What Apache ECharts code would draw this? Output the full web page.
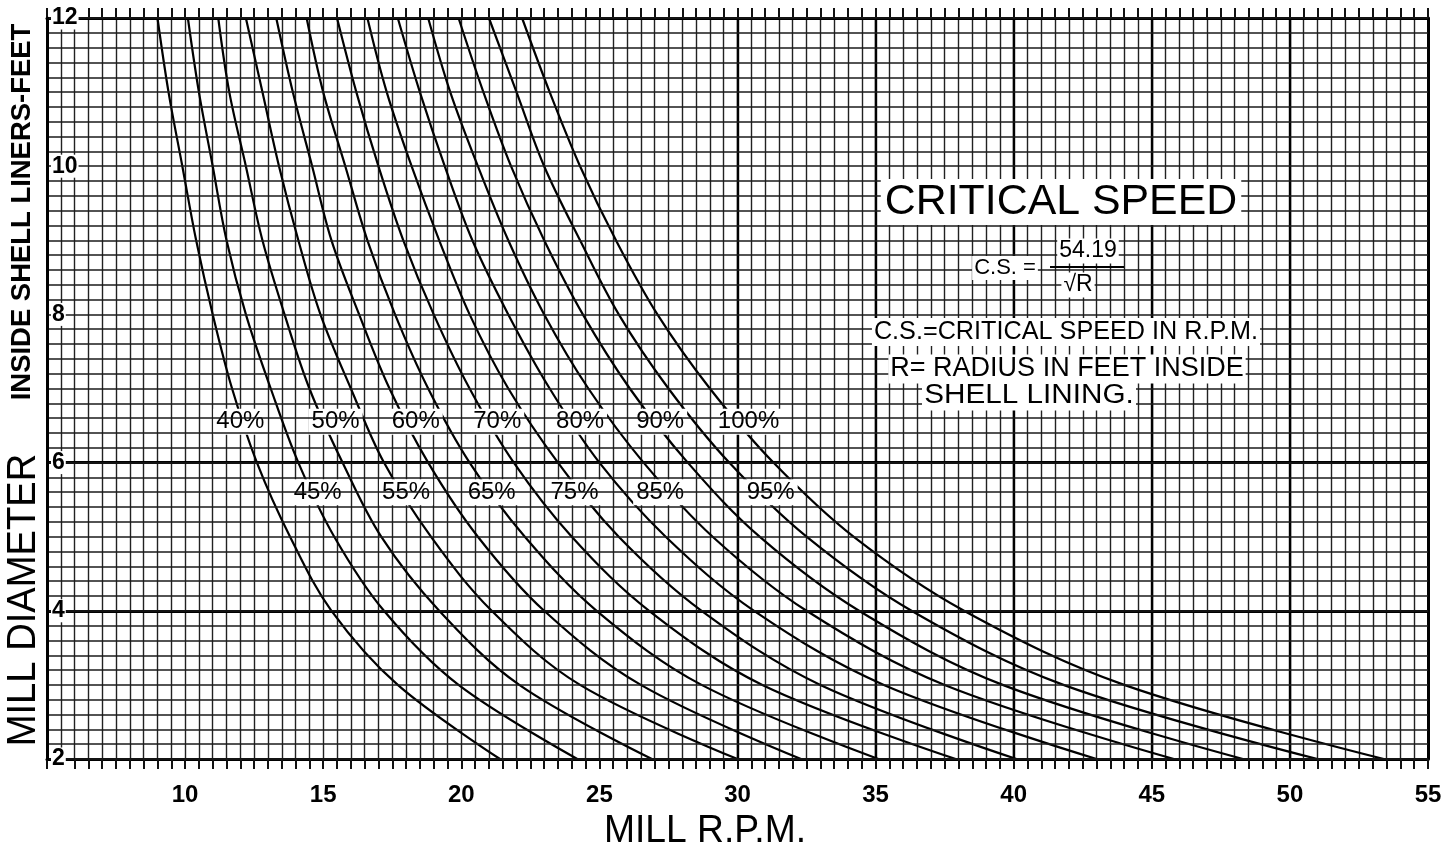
<!DOCTYPE html>
<html><head><meta charset="utf-8">
<script src="https://cdn.jsdelivr.net/npm/echarts@6/dist/echarts.min.js"></script>
<style>html,body{margin:0;padding:0;background:#fff}#c{width:1450px;height:854px}</style>
</head><body><div id="c"></div>
<script>
// Mill diameter (ft) at which each curve's RPM was read
const diameters = [2, 3, 4, 5, 6, 7, 8, 9, 10, 11, 12];
const percentNames = ['40%','45%','50%','55%','60%','65%','70%','75%','80%','85%','90%','95%','100%'];
// RPM, at the diameters above
const rpm40  = [21.4, 17.7, 15.3, 13.8, 12.6, 11.7, 11.0, 10.4, 9.9, 9.4, 9.0];
const rpm45  = [24.2, 19.9, 17.2, 15.4, 14.1, 13.1, 12.2, 11.5, 11.0, 10.5, 10.1];
const rpm50  = [26.9, 22.1, 19.2, 17.1, 15.7, 14.5, 13.6, 12.8, 12.2, 11.6, 11.2];
const rpm55  = [30.0, 24.3, 21.1, 18.9, 17.2, 16.0, 14.9, 14.1, 13.4, 12.8, 12.2];
const rpm60  = [32.3, 26.5, 23.0, 20.6, 18.8, 17.4, 16.3, 15.3, 14.6, 13.9, 13.3];
const rpm65  = [35.1, 28.7, 24.9, 22.3, 20.3, 18.8, 17.6, 16.6, 15.8, 15.0, 14.4];
const rpm70  = [37.9, 30.9, 26.8, 24.0, 21.9, 20.3, 19.0, 17.9, 17.0, 16.2, 15.5];
const rpm75  = [40.1, 33.0, 28.7, 25.7, 23.5, 21.7, 20.3, 19.2, 18.2, 17.3, 16.6];
const rpm80  = [43.0, 35.3, 30.6, 27.4, 25.0, 23.2, 21.7, 20.4, 19.4, 18.5, 17.7];
const rpm85  = [45.8, 37.5, 32.5, 29.1, 26.6, 24.6, 23.0, 21.7, 20.6, 19.6, 18.8];
const rpm90  = [48.3, 39.6, 34.4, 30.8, 28.2, 26.1, 24.4, 23.0, 21.8, 20.8, 19.9];
const rpm95  = [51.0, 41.8, 36.3, 32.5, 29.7, 27.5, 25.7, 24.3, 23.0, 22.0, 21.0];
const rpm100 = [53.4, 44.0, 38.2, 34.2, 31.3, 29.0, 27.1, 25.6, 24.3, 23.2, 22.2];
const xTickLabels = [10, 15, 20, 25, 30, 35, 40, 45, 50, 55];
const yTickLabels = [2, 4, 6, 8, 10, 12];
const boldDiameters = [4, 6];
const boldRpm = [30, 35, 40, 45, 50];

const curves = [rpm40, rpm45, rpm50, rpm55, rpm60, rpm65, rpm70, rpm75, rpm80, rpm85, rpm90, rpm95, rpm100];

// where the percentage names are written on the chart (rpm, diameter)
const labelAnchors = [
  [12.0, 6.55], [14.8, 5.6], [15.45, 6.55], [18.0, 5.6], [18.35, 6.55], [21.1, 5.6],
  [21.3, 6.55], [24.1, 5.6], [24.3, 6.55], [27.2, 5.6], [27.2, 6.55], [31.2, 5.6], [30.4, 6.55]
];

const chart = echarts.init(document.getElementById('c'), null, {renderer: 'canvas'});
const FONT = 'Liberation Sans';
const near = (v, t) => Math.abs(v - t) < 1e-6;

const series = curves.map((arr, i) => ({
  type: 'line',
  name: percentNames[i],
  data: diameters.map((d, j) => [arr[j], d]),
  smooth: 0.35,
  symbol: 'none',
  silent: true,
  lineStyle: {color: '#000', width: 2.2},
  z: 5
}));

series[0].markLine = {
  silent: true, symbol: 'none', animation: false,
  label: {show: false},
  lineStyle: {color: '#000', type: 'solid', width: 3},
  data: boldDiameters.map(d => ({yAxis: d})).concat(boldRpm.map(r => ({xAxis: r, lineStyle: {width: 2.4}})))
};

series.push({
  type: 'scatter',
  symbolSize: 0,
  silent: true,
  z: 10,
  itemStyle: {opacity: 1},
  data: labelAnchors.map((p, i) => [p[0], p[1], percentNames[i]]),
  label: {
    show: true, position: 'inside', opacity: 1,
    formatter: p => p.value[2],
    fontFamily: FONT, fontSize: 24, color: '#000',
    backgroundColor: '#fff', padding: [1, 3]
  }
});

const txt = (x, y, text, size, extra) => Object.assign({
  type: 'text', x: x, y: y, z: 100,
  style: Object.assign({text: text, fontFamily: FONT, fontSize: size, fill: '#000',
    align: 'center', verticalAlign: 'middle'}, extra && extra.style || {})
}, extra && extra.el || {});

chart.setOption({
  animation: false,
  backgroundColor: '#fff',
  grid: {left: 47, right: 22, top: 18, bottom: 95},
  xAxis: [{
    type: 'value', min: 5, max: 55, interval: 0.5,
    axisLine: {show: true, onZero: false, lineStyle: {color: '#000', width: 3}},
    axisTick: {show: true, length: 10, lineStyle: {color: '#111', width: 2}},
    splitLine: {show: true, lineStyle: {color: '#222', width: 1.4}},
    axisLabel: {
      margin: 24, fontFamily: FONT, fontWeight: 'bold', fontSize: 24, color: '#000',
      formatter: v => xTickLabels.some(t => near(v, t)) ? String(Math.round(v)) : '',
      showMinLabel: true, showMaxLabel: true
    }
  }, {
    type: 'value', min: 5, max: 55, interval: 0.5, position: 'top',
    axisLine: {show: true, onZero: false, lineStyle: {color: '#000', width: 3}},
    axisTick: {show: true, length: 10, lineStyle: {color: '#111', width: 2}},
    splitLine: {show: false}, axisLabel: {show: false}
  }],
  yAxis: [{
    type: 'value', min: 2, max: 12, interval: 0.2,
    axisLine: {show: true, onZero: false, lineStyle: {color: '#000', width: 3}},
    axisTick: {show: false},
    splitLine: {show: true, lineStyle: {color: '#1a1a1a', width: 1.6}},
    axisLabel: {
      inside: true, margin: 4, fontFamily: FONT, fontWeight: 'bold', fontSize: 23, color: '#000',
      backgroundColor: '#fff', padding: [0, 1],
      formatter: v => yTickLabels.some(t => near(v, t)) ? String(Math.round(v)) : '',
      showMinLabel: true, showMaxLabel: true
    },
    z: 12
  }, {
    type: 'value', min: 2, max: 12, interval: 0.2, position: 'right',
    axisLine: {show: true, onZero: false, lineStyle: {color: '#000', width: 3}},
    axisTick: {show: false}, splitLine: {show: false}, axisLabel: {show: false}
  }],
  series: series,
  graphic: [
    txt(22, 212, 'INSIDE SHELL LINERS-FEET', 28, {el: {rotation: Math.PI / 2, scaleX: 0.98}, style: {fontWeight: 'bold'}}),
    txt(24, 600, 'MILL DIAMETER', 36, {el: {rotation: Math.PI / 2, scaleX: 1.06, scaleY: 1.15}}),
    txt(705, 832, 'MILL R.P.M.', 38, {el: {scaleX: 0.98, scaleY: 1.0}}),
    txt(1061, 202, 'CRITICAL SPEED', 42, {el: {scaleX: 1.02}, style: {backgroundColor: '#fff', padding: [2, 4]}}),
    txt(1005, 268, 'C.S. =', 22, {style: {backgroundColor: '#fff', padding: [1, 2]}}),
    txt(1088, 251, '54.19', 23, {style: {backgroundColor: '#fff', padding: [1, 2]}}),
    {type: 'line', z: 100, shape: {x1: 1050, y1: 267, x2: 1124, y2: 267}, style: {stroke: '#000', lineWidth: 2}},
    txt(1078, 285, '√R', 23, {style: {backgroundColor: '#fff', padding: [1, 2]}}),
    txt(1066, 332, 'C.S.=CRITICAL SPEED IN R.P.M.', 26, {el: {scaleX: 0.97}, style: {backgroundColor: '#fff', padding: [1, 2]}}),
    txt(1067, 369, 'R= RADIUS IN FEET INSIDE', 27, {style: {backgroundColor: '#fff', padding: [1, 2]}}),
    txt(1029, 396, 'SHELL LINING.', 27, {el: {scaleX: 1.1}, style: {backgroundColor: '#fff', padding: [1, 2]}})
  ]
});
</script></body></html>
